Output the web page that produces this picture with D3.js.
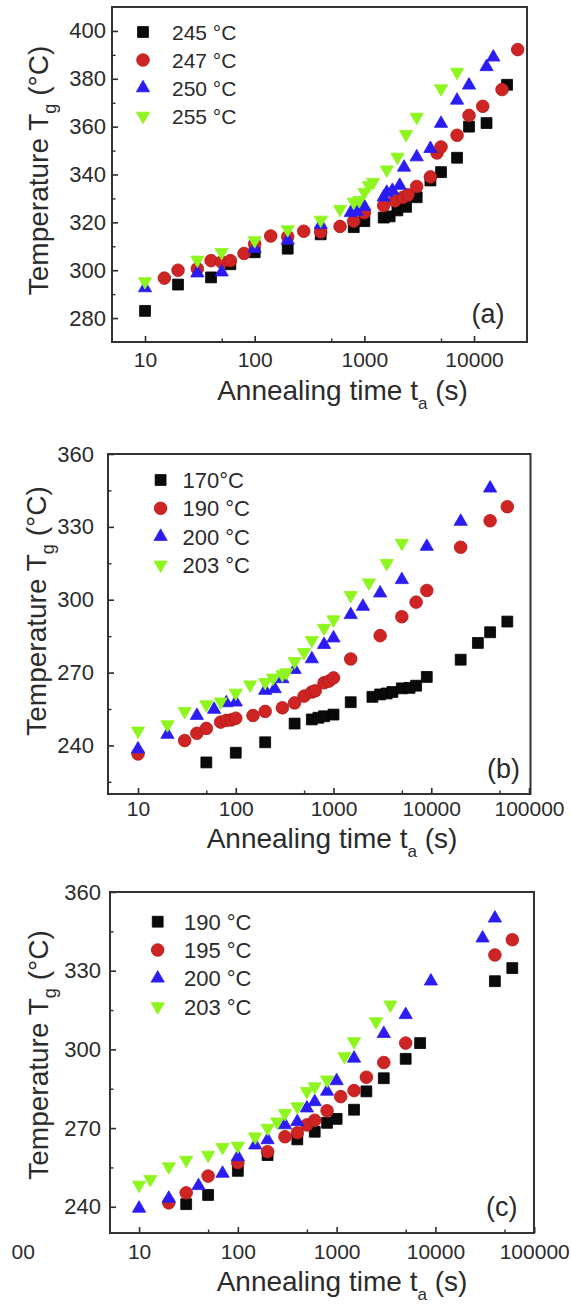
<!DOCTYPE html>
<html>
<head>
<meta charset="utf-8">
<script src="https://cdn.jsdelivr.net/npm/d3@7"></script>
<style>
  body { margin: 0; background: #fff; }
  text { font-family: "Liberation Sans", Arial, sans-serif; fill: #2b2b2b; }
</style>
</head>
<body>
<svg id="fig" width="572" height="1306"></svg>
<script>
// ---------- data (annealing time s, Tg °C) ----------
// panel (a)
const namesA = ['245 °C', '247 °C', '250 °C', '255 °C'];
const a245 = [[10,283],[20,294],[40,297],[60,302.5],[100,307.5],[200,309],[400,315],[800,318],[1000,320.5],[1500,322],[1700,322.5],[2000,325],[2400,326.5],[3000,330.5],[4000,337.5],[5000,341],[7000,347],[9000,360],[13000,361.5],[20000,377.5]];
const a247 = [[15,296.7],[20,300],[30,300.6],[40,304],[50,303.4],[60,304],[80,307],[100,311],[140,314.3],[200,314],[280,316.3],[400,316],[600,318.3],[800,320.5],[1000,324],[1500,327],[1900,329],[2250,330.5],[2500,331.5],[3000,335],[4000,339],[4600,349],[5000,351.5],[7000,356.4],[9000,364.7],[12000,368.5],[18000,375.5],[25000,392.2]];
const a250 = [[10,292.6],[30,298.8],[50,299.2],[100,309],[200,312.5],[400,319],[750,324],[850,324.5],[1000,326.6],[1500,330.5],[1600,332.5],[1800,333.3],[2100,335.4],[2300,343],[3000,347.3],[4000,350.8],[5000,361.3],[7000,371],[9000,377.3],[13000,385],[15000,389]];
const a255 = [[10,295.3],[30,304.3],[50,307.5],[100,312.4],[200,317],[400,321],[600,325.5],[800,328.5],[900,329.2],[1000,332.6],[1100,335.4],[1200,336.8],[1600,342],[2000,347.3],[2400,356.8],[3000,364],[5000,375.9],[7000,382.8]];

// panel (b)
const namesB = ['170°C', '190 °C', '200 °C', '203 °C'];
const b170 = [[50,233],[100,237],[200,241.3],[400,249],[600,250.7],[700,251.4],[800,252],[1000,252.7],[1500,257.8],[2500,260],[3000,261],[3500,261.4],[4000,262],[5000,263.5],[6000,263.7],[7000,264.6],[9000,268.2],[20000,275.3],[30000,282.2],[40000,286.6],[60000,291]];
const b190 = [[10,236.5],[30,242],[40,245],[50,247],[70,249.6],[80,250.3],[90,250.5],[100,251.2],[150,252.3],[200,254],[300,255.5],[400,257.5],[500,260.3],[600,262],[650,262.5],[800,265.8],[900,266.5],[1000,267.8],[1500,275.6],[3000,285.2],[5000,293],[7000,299],[9000,303.8],[20000,321.6],[40000,332.5],[60000,338.3]];
const b200 = [[10,238.5],[20,244.5],[40,252.3],[60,254.8],[80,257.5],[100,257.8],[200,262.6],[250,263.3],[300,267.4],[400,271.2],[600,275.6],[800,281.5],[1000,284.2],[1500,293.8],[2000,297.2],[3000,302.7],[5000,308.2],[9000,321.9],[20000,332.2],[40000,345.9]];
const b203 = [[10,246],[20,248.6],[30,254],[50,256.8],[70,258],[100,261.6],[140,265],[200,266],[240,267.8],[300,269.2],[330,270],[400,274.6],[500,278.3],[600,283.3],[800,288.3],[1000,291.8],[1500,301.8],[2300,307],[3500,315],[5000,323.3]];

// panel (c)
const namesC = ['190 °C', '195 °C', '200 °C', '203 °C'];
const c190 = [[30,241],[50,244.5],[100,253.7],[200,259.7],[400,265.7],[600,268.6],[800,272],[1000,273.5],[1500,277],[2000,284],[3000,289],[5000,296.4],[7000,302.4],[40000,326],[60000,331]];
const c195 = [[20,241.5],[30,245.3],[50,251.7],[100,256.8],[200,261],[300,266.7],[400,268.2],[500,271.2],[600,273],[800,276.6],[1100,282],[1500,284.3],[2000,289.4],[3000,295],[5000,302.4],[40000,336],[60000,341.8]];
const c200 = [[10,239.4],[20,243.2],[40,248],[70,252.7],[100,259],[150,263.5],[200,265.5],[300,271.2],[400,272.4],[500,277.6],[600,280],[800,284],[1000,288],[1500,296.6],[3000,306],[5000,313.2],[9000,326],[30000,342.4],[40000,350]];
const c203 = [[10,248.3],[13,250.5],[20,255.3],[30,257.8],[50,259.7],[70,262.7],[100,263.2],[150,266.7],[200,270],[250,272.4],[300,275.6],[400,278.2],[500,284],[600,285.8],[800,288.4],[1200,297.3],[1500,303],[2500,310.6],[3500,317]];

// ticks
const xTicksA = [10, 100, 1000, 10000];
const xMinorA = [50, 500, 5000];
const xTicksBC = [10, 100, 1000, 10000, 100000];
const xMinorBC = [50, 500, 5000, 50000];
const yTicksA = [280, 300, 320, 340, 360, 380, 400];
const yMinorA = [290, 310, 330, 350, 370, 390];
const yTicksBC = [240, 270, 300, 330, 360];
const yMinorB = [225, 255, 285, 315, 345];
const yMinorC = [255, 285, 315, 345];

// ---------- styles ----------
const colors = ['#0a0a0a', '#cf2424', '#2a1cf2', '#8ef51e'];
const strokes = ['#000', '#b31818', '#2a1cf2', '#8ef51e'];
const shapes = [d3.symbolSquare, d3.symbolCircle, d3.symbolTriangle, d3.symbolTriangle];
const sizes = [118, 125, 76, 76];
const rot = [0, 0, 0, 180];

const panels = [
  { series: [a245, a247, a250, a255], names: namesA,
    box: { l: 112, t: 7, r: 527, b: 342 }, xDom: [5, 30400], yDom: [270, 410],
    xTicks: xTicksA, xMinor: xMinorA, yTicks: yTicksA, yMinor: yMinorA,
    xPad: 10, yPad: 6, xTitle: [342.5, 399.5], yTitle: [48, 170.5],
    legend: { x: 143, y: 32, dy: 28, tx: 172, fs: 21 }, tag: ['(a)', 488, 323] },
  { series: [b170, b190, b200, b203], names: namesB,
    box: { l: 108, t: 454, r: 530.5, b: 794 }, xDom: [4.93, 103600], yDom: [220, 360],
    xTicks: xTicksBC, xMinor: xMinorBC, yTicks: yTicksBC, yMinor: yMinorB,
    xPad: 7, yPad: 14, xTitle: [332, 848], yTitle: [45.5, 611],
    legend: { x: 160.6, y: 480, dy: 28.3, tx: 182.5, fs: 22 }, tag: ['(b)', 503.6, 778] },
  { series: [c190, c195, c200, c203], names: namesC,
    box: { l: 110, t: 892, r: 534, b: 1233 }, xDom: [5.08, 99500], yDom: [230, 360],
    xTicks: xTicksBC, xMinor: xMinorBC, yTicks: yTicksBC, yMinor: yMinorC,
    xPad: 11, yPad: 9, xTitle: [342, 1291], yTitle: [48, 1055],
    legend: { x: 157.7, y: 921.7, dy: 28.3, tx: 184, fs: 22 }, tag: ['(c)', 501.8, 1216] }
];

const svg = d3.select('#fig');

function marker(g, i, x, y) {
  g.append('path')
    .attr('d', d3.symbol().type(shapes[i]).size(sizes[i])())
    .attr('transform', `translate(${x},${y}) rotate(${rot[i]})`)
    .attr('fill', colors[i])
    .attr('stroke', strokes[i])
    .attr('stroke-width', 0.8);
}

panels.forEach((p) => {
  const { l, t, r, b } = p.box;
  const x = d3.scaleLog().domain(p.xDom).range([l, r]);
  const y = d3.scaleLinear().domain(p.yDom).range([b, t]);
  const g = svg.append('g');

  // bottom axis (ticks point inward)
  const xAxis = g.append('g').attr('transform', `translate(0,${b})`).style('color', '#2b2b2b')
    .call(d3.axisBottom(x).tickValues(p.xTicks).tickFormat(d3.format('d')).tickSizeInner(-6).tickSizeOuter(0).tickPadding(p.xPad))
    .attr('font-size', 21).attr('font-family', null);
  xAxis.select('.domain').remove();
  xAxis.selectAll('line').attr('stroke-width', 1.6);

  const xMin = g.append('g').attr('transform', `translate(0,${b})`).style('color', '#2b2b2b')
    .call(d3.axisBottom(x).tickValues(p.xMinor).tickFormat('').tickSizeInner(-3.5).tickSizeOuter(0));
  xMin.select('.domain').remove();
  xMin.selectAll('line').attr('stroke-width', 1.4);

  // left axis
  const yAxis = g.append('g').attr('transform', `translate(${l},0)`).style('color', '#2b2b2b')
    .call(d3.axisLeft(y).tickValues(p.yTicks).tickSizeInner(-6).tickSizeOuter(0).tickPadding(p.yPad))
    .attr('font-size', 22).attr('font-family', null);
  yAxis.select('.domain').remove();
  yAxis.selectAll('line').attr('stroke-width', 1.6);

  const yMin = g.append('g').attr('transform', `translate(${l},0)`).style('color', '#2b2b2b')
    .call(d3.axisLeft(y).tickValues(p.yMinor).tickFormat('').tickSizeInner(-3.5).tickSizeOuter(0));
  yMin.select('.domain').remove();
  yMin.selectAll('line').attr('stroke-width', 1.4);

  // frame
  g.append('rect')
    .attr('x', l).attr('y', t).attr('width', r - l).attr('height', b - t)
    .attr('fill', 'none').attr('stroke', '#333').attr('stroke-width', 2);

  // points: black first, green last
  p.series.forEach((s, i) => {
    s.forEach((d) => marker(g, i, x(d[0]), y(d[1])));
  });

  // legend
  p.names.forEach((n, i) => {
    const ly = p.legend.y + i * p.legend.dy;
    marker(g, i, p.legend.x, ly);
    g.append('text').attr('x', p.legend.tx).attr('y', ly).attr('dy', '0.36em')
      .style('font-size', `${p.legend.fs}px`).text(n);
  });

  // x title
  const xt = g.append('text').attr('x', p.xTitle[0]).attr('y', p.xTitle[1])
    .attr('text-anchor', 'middle').style('font-size', '28px');
  xt.append('tspan').text('Annealing time t');
  xt.append('tspan').attr('dy', 9).style('font-size', '17px').text('a');
  xt.append('tspan').attr('dy', -9).text(' (s)');

  // y title
  const yt = g.append('text')
    .attr('transform', `translate(${p.yTitle[0]},${p.yTitle[1]}) rotate(-90)`)
    .attr('text-anchor', 'middle').style('font-size', '28px');
  yt.append('tspan').text('Temperature T');
  yt.append('tspan').attr('dy', 8).style('font-size', '18px').text('g');
  yt.append('tspan').attr('dy', -8).text(' (°C)');

  // panel tag
  g.append('text').attr('x', p.tag[1]).attr('y', p.tag[2])
    .attr('text-anchor', 'middle').style('font-size', '27px').text(p.tag[0]);
});

// stray fragment left of panel (c) axis in the source figure
svg.append('text').attr('x', 23.3).attr('y', 1259).attr('text-anchor', 'middle')
  .style('font-size', '21px').text('00');
</script>
</body>
</html>
